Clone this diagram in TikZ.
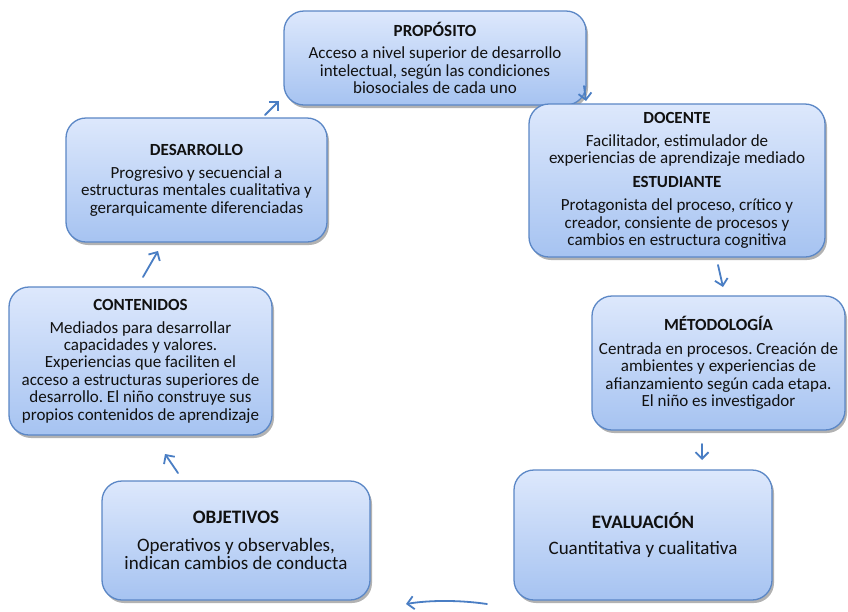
\documentclass[tikz,border=0pt]{standalone}
\usepackage{fontspec}
\setmainfont{Carlito}
\usetikzlibrary{arrows.meta,shadows}
\definecolor{cardtop}{HTML}{DDE8FC}
\definecolor{cardbot}{HTML}{A6C3F1}
\definecolor{cardline}{HTML}{5B87C6}
\definecolor{arrowblue}{HTML}{4A7EC4}
\definecolor{inktext}{HTML}{111111}
\newcommand{\ttl}[1]{\textbf{#1}}
\begin{document}
\frenchspacing
\begin{tikzpicture}[x=1pt,y=-1pt,
  card/.style={draw=cardline, line width=1.3pt, rounded corners=20pt,
    top color=cardtop, bottom color=cardbot, align=center, text=inktext,
    font=\fontsize{17}{17.4}\selectfont, inner sep=0pt,
    drop shadow={shadow xshift=2pt, shadow yshift=-3pt, fill=black, opacity=.3}},
  bigcard/.style={card, font=\fontsize{19}{18.2}\selectfont},
  flow/.style={draw=arrowblue, line width=1.8pt, line cap=round,
    -{Straight Barb[length=6.5pt,width=13pt,line width=1.8pt]}}]
\useasboundingbox (0,0) rectangle (848,611);
\fill[white] (0,0) rectangle (848,611);

\node[card, minimum width=302, minimum height=94] (prop) at (435,58)
  {\ttl{PROPÓSITO}\\[4.6pt]
   Acceso a nivel superior de desarrollo\\
   intelectual, según las condiciones\\
   biosociales de cada uno};

\node[card, minimum width=296, minimum height=153] (doc) at (677,180.5)
  {\ttl{DOCENTE}\\[5.6pt]
   Facilitador, estimulador de\\
   experiencias de aprendizaje mediado\\[6.6pt]
   \ttl{ESTUDIANTE}\\[5.6pt]
   Protagonista del proceso, crítico y\\
   creador, consiente de procesos y\\
   cambios en estructura cognitiva};

\node[card, minimum width=253, minimum height=134] (met) at (718.5,363)
  {\ttl{MÉTODOLOGÍA}\\[6.6pt]
   Centrada en procesos. Creación de\\
   ambientes y experiencias de\\
   afianzamiento según cada etapa.\\
   El niño es investigador};

\node[bigcard, minimum width=258, minimum height=130] (eva) at (643,535)
  {\ttl{EVALUACIÓN}\\[8pt]
   Cuantitativa y cualitativa};

\node[bigcard, minimum width=268, minimum height=119] (obj) at (236,540.5)
  {\ttl{OBJETIVOS}\\[9pt]
   Operativos y observables,\\
   indican cambios de conducta};

\node[card, minimum width=263, minimum height=148] (con) at (140.5,361)
  {\ttl{CONTENIDOS}\\[5.6pt]
   Mediados para desarrollar\\
   capacidades y valores.\\
   Experiencias que faciliten el\\
   acceso a estructuras superiores de\\
   desarrollo. El niño construye sus\\
   propios contenidos de aprendizaje};

\node[card, minimum width=261, minimum height=124] (des) at (196.5,180)
  {\ttl{DESARROLLO}\\[5.6pt]
   Progresivo y secuencial a\\
   estructuras mentales cualitativa y\\
   gerarquicamente diferenciadas};

% free-standing arrows between the cards
\coordinate (a1s) at (265,115); \coordinate (a1e) at (279,101);
\coordinate (a2s) at (584,86);  \coordinate (a2e) at (586,101);
\coordinate (a3s) at (718,265); \coordinate (a3e) at (723,287);
\coordinate (a4s) at (702,444); \coordinate (a4e) at (702,460);
\coordinate (a5s) at (487,604); \coordinate (a5e) at (406,604);
\coordinate (a6s) at (178,473); \coordinate (a6e) at (165,454);
\coordinate (a7s) at (143,277); \coordinate (a7e) at (158,251);

\draw[flow] (a1s) -- (a1e);
\draw[flow] (a2s) -- (a2e);
\draw[flow] (a3s) -- (a3e);
\draw[flow] (a4s) -- (a4e);
\draw[flow] (a5s) .. controls (460,600) and (430,600) .. (a5e);
\draw[flow] (a6s) -- (a6e);
\draw[flow] (a7s) -- (a7e);
\end{tikzpicture}
\end{document}
